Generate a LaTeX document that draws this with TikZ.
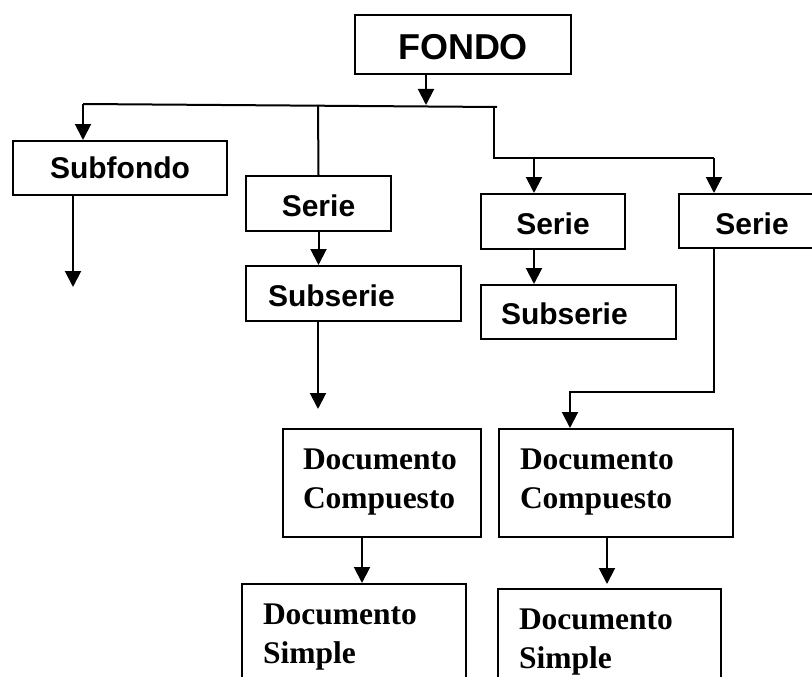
\documentclass[tikz,border=0pt]{standalone}
\usepackage{fontspec}
\setmainfont{Liberation Serif}
\setsansfont{Liberation Sans}
\usetikzlibrary{arrows.meta}
\begin{document}
\begin{tikzpicture}[x=1pt,y=-1pt,
  box/.style={draw, line width=2pt, anchor=north west, inner ysep=0pt},
  cbox/.style={box, align=center, inner xsep=0pt, font=\sffamily\bfseries\fontsize{30}{36}\selectfont},
  lbox/.style={box, align=left, font=\sffamily\bfseries\fontsize{30}{36}\selectfont},
  dbox/.style={box, align=left, font=\rmfamily\bfseries\fontsize{31.5}{39}\selectfont},
  conn/.style={line width=2pt},
  arr/.style={conn, -{Triangle[width=16pt,length=16pt]}}]
\useasboundingbox (0,0) rectangle (812,677);
% boxes
\node[cbox, text width=216pt, text height=45pt, text depth=14pt, font=\sffamily\bfseries\fontsize{36}{40}\selectfont] (FONDO) at (354,14) {FONDO};
\node[cbox, text width=214pt, text height=37pt, text depth=17pt] (Subfondo) at (12,140) {Subfondo};
\node[cbox, text width=145pt, text height=40pt, text depth=15pt] (Serie1) at (245,175) {Serie};
\node[lbox, inner xsep=22pt, text width=171pt, text height=40pt, text depth=15pt] (Subserie1) at (245,265) {Subserie};
\node[cbox, text width=144pt, text height=40pt, text depth=15pt] (Serie2) at (480,193) {Serie};
\node[lbox, inner xsep=20pt, text width=155pt, text height=39pt, text depth=15pt] (Subserie2) at (480,284) {Subserie};
\node[cbox, text width=146pt, text height=40pt, text depth=14pt] (Serie3) at (678,193) {Serie};
\node[dbox, inner xsep=20pt, text width=158pt, text height=40pt, text depth=68pt] (DC1) at (282,428) {Documento\\Compuesto};
\node[dbox, inner xsep=21pt, text width=192pt, text height=40pt, text depth=68pt] (DC2) at (498,428) {Documento\\Compuesto};
\node[dbox, inner xsep=21pt, text width=182pt, text height=40pt, text depth=120pt] (DS1) at (241,583) {Documento\\Simple};
\node[dbox, inner xsep=21pt, text width=181pt, text height=40pt, text depth=115pt] (DS2) at (497,588) {Documento\\Simple};
% junction points
\coordinate (hub) at (426,105);
\coordinate (bl) at (83,104);
\coordinate (br) at (497,107);
\coordinate (bv) at (494,106);
\coordinate (j2) at (534,158);
\coordinate (j3) at (714,158);
\coordinate (e0) at (73,287);
\coordinate (e1) at (318,409);
\coordinate (k) at (570,392);
\coordinate (c1) at (362,0);
\coordinate (c2) at (607,0);
% connectors
\draw[arr] (FONDO.south -| hub) -- (hub);
\draw[conn] (bl) -- (br);
\draw[arr] (bl) -- (bl |- Subfondo.north);
\draw[conn] (318,105) -- (Serie1.north);
\draw[conn] (bv) |- (j3);
\draw[arr] (j2) -- (j2 |- Serie2.north);
\draw[arr] (j3) -- (j3 |- Serie3.north);
\draw[arr] (e0 |- Subfondo.south) -- (e0);
\draw[arr] (Serie1.south) -- (Serie1.south |- Subserie1.north);
\draw[arr] (e1 |- Subserie1.south) -- (e1);
\draw[arr] (j2 |- Serie2.south) -- (j2 |- Subserie2.north);
\draw[arr] (j3 |- Serie3.south) |- (k) -- (k |- DC2.north);
\draw[arr] (c1 |- DC1.south) -- (c1 |- DS1.north);
\draw[arr, shorten >=4pt] (c2 |- DC2.south) -- (c2 |- DS2.north);
\end{tikzpicture}
\end{document}
